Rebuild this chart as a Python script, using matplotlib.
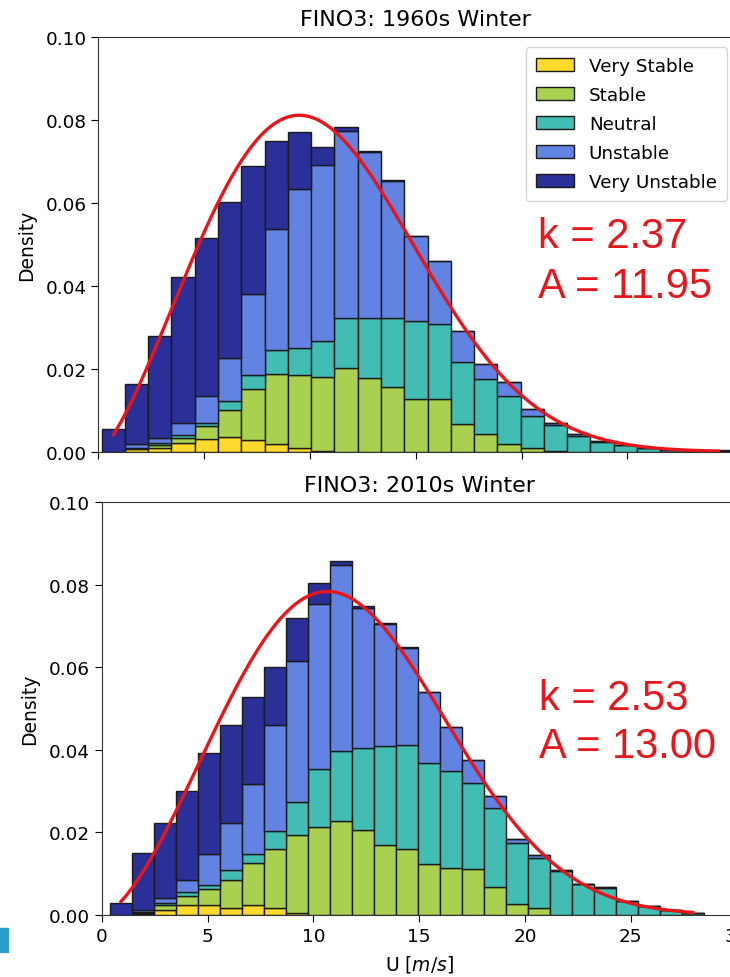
import numpy as np
import matplotlib
matplotlib.use("Agg")
import matplotlib.pyplot as plt
from matplotlib.patches import Rectangle

classes = ["Very Stable", "Stable", "Neutral", "Unstable", "Very Unstable"]
colors = ["#fcd92b", "#a9d14f", "#42bdb4", "#6383e3", "#2b2f98"]

# FINO3 1960s winter, density per stability class (stacked)
edges_60 = 0.15 + 1.1 * np.arange(28)
vs_60 = [0, .0006, .0010, .0022, .0030, .0035, .0028, .0018, .0008, .0002, 0, 0, 0, 0,
         0, 0, 0, 0, 0, 0, 0, 0, 0, 0, 0, 0, 0]
s_60 = [0, .0003, .0006, .0012, .0033, .0065, .0123, .0169, .0177, .0177, .0201, .0177, .0157, .0128,
        .0128, .0067, .0043, .0018, .0008, .0002, 0, 0, 0, 0, 0, 0, 0]
n_60 = [0, .0001, .0004, .0006, .0005, .0022, .0034, .0059, .0064, .0088, .0122, .0146, .0166, .0186,
        .0179, .0148, .0132, .0115, .0079, .0062, .0039, .0024, .0015, .0008, .0004, .0002, .0001]
u_60 = [0, .0008, .0012, .0029, .0067, .0103, .0195, .0290, .0383, .0423, .0450, .0398, .0329, .0206,
        .0153, .0076, .0036, .0036, .0016, .0004, .0004, .0002, .0001, 0, 0, 0, 0]
vu_60 = [.0055, .0145, .0246, .0352, .0379, .0377, .0309, .0213, .0137, .0045, .0008, .0004, .0002, 0,
         0, 0, 0, 0, 0, 0, 0, 0, 0, 0, .0001, 0, .0002]

# FINO3 2010s winter
edges_10 = 0.38 + 1.04 * np.arange(28)
vs_10 = [0, .0003, .0013, .0024, .0024, .0018, .0024, .0018, .0006, 0, 0, 0, 0, 0,
         0, 0, 0, 0, 0, 0, 0, 0, 0, 0, 0, 0, 0]
s_10 = [0, .0003, .0011, .0021, .0039, .0067, .0103, .0141, .0189, .0214, .0227, .0206, .0169, .0161,
        .0123, .0115, .0111, .0067, .0027, .0016, .0001, 0, 0, 0, 0, 0, 0]
n_10 = [0, .0002, .0006, .0010, .0009, .0023, .0022, .0044, .0079, .0140, .0171, .0200, .0241, .0251,
        .0245, .0233, .0209, .0193, .0148, .0123, .0105, .0075, .0066, .0034, .0021, .0013, .0004]
u_10 = [0, .0005, .0010, .0030, .0077, .0115, .0169, .0257, .0341, .0399, .0450, .0338, .0295, .0235,
        .0172, .0108, .0056, .0029, .0010, .0006, .0002, .0001, .0001, .0001, 0, 0, 0]
vu_10 = [.0029, .0138, .0182, .0215, .0243, .0237, .0211, .0142, .0105, .0051, .0011, .0005, .0004, .0002,
         0, 0, 0, 0, 0, 0, 0, 0, 0, 0, 0, 0, .0002]

weibull_60 = (2.37, 11.95)
weibull_10 = (2.53, 13.00)


def weibull_pdf(x, k, a):
    return (k / a) * (x / a) ** (k - 1) * np.exp(-(x / a) ** k)


def draw_panel(ax, edges, layers, k, a, title):
    width = edges[1] - edges[0]
    bottom = np.zeros(len(edges) - 1)
    for vals, col, lab in zip(layers, colors, classes):
        vals = np.array(vals)
        ax.bar(edges[:-1], vals, width=width, bottom=bottom, align="edge",
               color=col, edgecolor="#1a1a1a", linewidth=1.0, label=lab)
        bottom += vals
    centers = 0.5 * (edges[:-1] + edges[1:])
    x = np.linspace(centers[0], centers[-1], 400)
    ax.plot(x, weibull_pdf(x, k, a), color="#e8161b", lw=2.4)
    ax.set_xlim(0, 30)
    ax.set_ylim(0, 0.10)
    ax.set_yticks([0, 0.02, 0.04, 0.06, 0.08, 0.10])
    ax.set_yticklabels(["0.00", "0.02", "0.04", "0.06", "0.08", "0.10"])
    ax.set_xticks([0, 5, 10, 15, 20, 25, 30])
    ax.set_ylabel("Density", fontsize=13.5, labelpad=7)
    ax.set_title(title, fontsize=16, pad=8)
    ax.tick_params(labelsize=13.2, length=5)
    for sp in ax.spines.values():
        sp.set_color("#333333")


fig = plt.figure(figsize=(7.3, 9.78), dpi=100)
ax1 = fig.add_axes([0.1349, 0.5371, 0.8696, 0.4245])
ax2 = fig.add_axes([0.1397, 0.0634, 0.8692, 0.4218])

draw_panel(ax1, edges_60, [vs_60, s_60, n_60, u_60, vu_60], *weibull_60, "FINO3: 1960s Winter")
draw_panel(ax2, edges_10, [vs_10, s_10, n_10, u_10, vu_10], *weibull_10, "FINO3: 2010s Winter")
ax1.tick_params(labelbottom=False)
ax2.set_xlabel("U [$m/s$]", fontsize=13.5, labelpad=6)

ax1.legend(loc="upper right", bbox_to_anchor=(0.990, 0.975), borderaxespad=0, fontsize=13.2,
           handlelength=2.1, borderpad=0.55, labelspacing=0.6)

txt = dict(color="#e8161b", fontsize=30, family="Liberation Sans", transform=fig.transFigure)
fig.text(538 / 730, 1 - 248 / 978, "k = 2.37", **txt)
fig.text(538 / 730, 1 - 298 / 978, "A = 11.95", **txt)
fig.text(539 / 730, 1 - 710 / 978, "k = 2.53", **txt)
fig.text(539 / 730, 1 - 758 / 978, "A = 13.00", **txt)

fig.patches.append(Rectangle((0, 1 - 953 / 978), 8 / 730, 24 / 978,
                             transform=fig.transFigure, color="#2e9ec9"))

fig.savefig("out.png", dpi=100)
